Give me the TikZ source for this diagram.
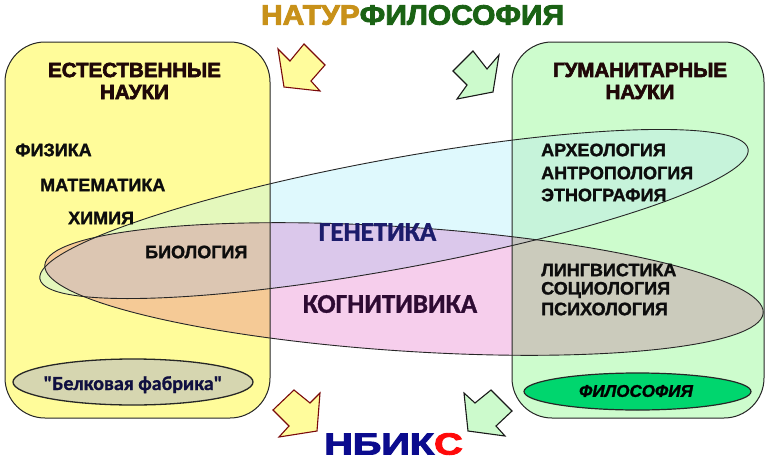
\documentclass[tikz,border=0pt]{standalone}
\usepackage{graphicx}
\usepackage{fontspec}
\setmainfont{Liberation Sans}
\newfontfamily\carl{Carlito Bold}[FakeBold=1]
\newfontfamily\heavy{Liberation Sans Bold}[FakeBold=3]
\newfontfamily\semi{Liberation Sans Bold}[FakeBold=1.5]
\newfontfamily\semiit{Liberation Sans Bold Italic}[FakeBold=1.5]
\usetikzlibrary{shapes.geometric}
\definecolor{ybox}{HTML}{FFFC9A}
\definecolor{gbox}{HTML}{CDFCCD}
\definecolor{cy}{HTML}{DFF9FD}
\definecolor{cyY}{HTML}{E4F8BC}
\definecolor{cyG}{HTML}{C6F3DA}
\definecolor{pk}{HTML}{F6CEEC}
\definecolor{pkY}{HTML}{F5CA96}
\definecolor{pkG}{HTML}{CBCBBC}
\definecolor{cp}{HTML}{DBC8EB}
\definecolor{cpY}{HTML}{DCC6B2}
\definecolor{cpG}{HTML}{C4C4C0}
\definecolor{khaki}{HTML}{D6D6B0}
\definecolor{fgreen}{HTML}{00D66E}
\definecolor{arwY}{HTML}{FFFC9C}
\definecolor{arwG}{HTML}{CCFACC}
\definecolor{darkred}{HTML}{7A0A0A}
\definecolor{hdrc}{HTML}{200808}
\definecolor{navy}{HTML}{1C1C6B}
\definecolor{plum}{HTML}{2E0B33}
\definecolor{belc}{HTML}{101040}
\definecolor{gold}{HTML}{C89119}
\definecolor{dgreen}{HTML}{1A6214}
\definecolor{navyb}{HTML}{0B0B8E}
\definecolor{redc}{HTML}{FF0A0A}
\newcommand{\YB}{(5,-42) rectangle (270,-418)}
\newcommand{\GB}{(512,-42) rectangle (764,-418)}
\newcommand{\CE}{(394,-214) ellipse [x radius=360, y radius=55]}
\newcommand{\PE}{(404,-289) ellipse [x radius=360, y radius=62]}
\begin{document}
\begin{tikzpicture}[x=1pt,y=1pt,
  cyrot/.style={rotate around={10.4:(394,-214)}},
  pkrot/.style={rotate around={-3.8:(404,-289)}},
  lbl/.style={anchor=west,inner sep=0pt,font=\semi\fontsize{18}{18}\selectfont,text=black!95},
  hdr/.style={align=center,inner sep=0pt,font=\heavy\fontsize{20.5}{22}\selectfont,text=hdrc},
  big/.style={inner sep=0pt,font=\carl\fontsize{27}{27}\selectfont},
  boxline/.style={draw=black!85,line width=1pt,rounded corners=40pt},
  ellline/.style={draw=black!85,line width=0.9pt},
  yarrow/.style={fill=arwY,draw=darkred,line width=1.1pt},
  garrow/.style={fill=arwG,draw=black!90,line width=1.1pt}]
\fill[white] (0,0) rectangle (768,-463);
\useasboundingbox (0,0) rectangle (768,-463);
% boxes
\fill[ybox,rounded corners=40pt] \YB;
\fill[gbox,rounded corners=40pt] \GB;
% ellipses over white
\fill[cy,cyrot] \CE;
\fill[pk,pkrot] \PE;
\begin{scope}
  \clip[cyrot] \CE;
  \fill[cp,pkrot] \PE;
\end{scope}
% inside yellow box
\begin{scope}
  \clip[rounded corners=40pt] \YB;
  \fill[cyY,cyrot] \CE;
  \fill[pkY,pkrot] \PE;
  \clip[cyrot] \CE;
  \fill[cpY,pkrot] \PE;
\end{scope}
% inside green box
\begin{scope}
  \clip[rounded corners=40pt] \GB;
  \fill[cyG,cyrot] \CE;
  \fill[pkG,pkrot] \PE;
  \clip[cyrot] \CE;
  \fill[cpG,pkrot] \PE;
\end{scope}
% outlines
\draw[boxline] \YB;
\draw[boxline] \GB;
\draw[ellline,cyrot] \CE;
\draw[ellline,pkrot] \PE;
% small ellipses
\node[ellipse,draw=black!85,line width=1.3pt,fill=khaki,minimum width=240pt,minimum height=46pt,inner sep=0pt] (belE) at (133,-382) {};
\node[ellipse,draw=black!85,line width=1.2pt,fill=fgreen,minimum width=227pt,minimum height=37pt,inner sep=0pt] (filE) at (637.5,-391.5) {};
% block arrows
\draw[yarrow] (284,-87) -- (278,-49) -- (290,-61) -- (304,-44) -- (325,-65) -- (311,-81) -- (320,-91) -- cycle;
\draw[garrow] (473,-51) -- (453,-71) -- (467,-85) -- (457,-99) -- (493,-92) -- (499,-55) -- (487,-69) -- cycle;
\draw[yarrow] (273,-410) -- (294,-390) -- (310,-403) -- (320,-393) -- (317,-431) -- (279,-437) -- (289,-426) -- cycle;
\draw[garrow] (464,-393) -- (475,-403) -- (491,-390) -- (512,-411) -- (496,-426) -- (505,-436) -- (468,-431) -- cycle;
% titles
\node[inner sep=0pt,font=\heavy\fontsize{28}{28}\selectfont] (title) at (412.5,-15)
  {\scalebox{1.07}[1]{\textcolor{gold}{НАТУР}\textcolor{dgreen}{ФИЛОСОФИЯ}}};
\node[inner sep=0pt,font=\heavy\fontsize{30.5}{30.5}\selectfont] (nbics) at (393.5,-444)
  {\scalebox{1.3}[1]{\textcolor{navyb}{НБИК}\textcolor{redc}{С}}};
% headers
\node[hdr] (nat) at (134.5,-81) {ЕСТЕСТВЕННЫЕ\\НАУКИ};
\node[hdr] (hum) at (640,-81) {ГУМАНИТАРНЫЕ\\НАУКИ};
% labels
\node[lbl] (fiz) at (15,-150) {ФИЗИКА};
\node[lbl] (mat) at (40,-185) {МАТЕМАТИКА};
\node[lbl] (him) at (68,-218) {ХИМИЯ};
\node[lbl] (bio) at (145,-252) {БИОЛОГИЯ};
\node[lbl] (arh) at (541,-150) {АРХЕОЛОГИЯ};
\node[lbl] (ant) at (541,-173) {АНТРОПОЛОГИЯ};
\node[lbl] (etn) at (541,-195) {ЭТНОГРАФИЯ};
\node[lbl] (lin) at (541,-270) {ЛИНГВИСТИКА};
\node[lbl] (soc) at (541,-290) {СОЦИОЛОГИЯ};
\node[lbl] (psi) at (541,-309) {ПСИХОЛОГИЯ};
\node[big,text=navy] (gen) at (377.5,-232) {ГЕНЕТИКА};
\node[big,text=plum] (kog) at (390,-304) {КОГНИТИВИКА};
\node[anchor=base,inner sep=0pt,font=\carl\fontsize{20}{20}\selectfont,text=belc] (belT) at (133,-390) {"Белковая фабрика"};
\node[inner sep=0pt,font=\semiit\fontsize{17}{17}\selectfont,text=black] (filT) at (636,-391) {ФИЛОСОФИЯ};
\end{tikzpicture}
\end{document}
